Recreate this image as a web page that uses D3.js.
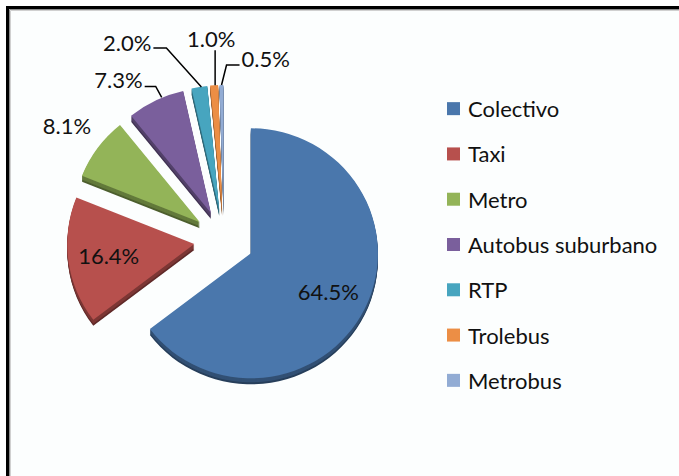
<!DOCTYPE html>
<html>
<head>
<meta charset="utf-8">
<script src="https://cdn.jsdelivr.net/npm/d3@7"></script>
<style>
  body { margin: 0; background: #fff; }
  svg { display: block; }
</style>
</head>
<body>
<script>
// data
var categories = ["Colectivo", "Taxi", "Metro", "Autobus suburbano", "RTP", "Trolebus", "Metrobus"]
var shares = [64.5, 16.4, 8.1, 7.3, 2.0, 1.0, 0.5]
var labels = ["64.5%", "16.4%", "8.1%", "7.3%", "2.0%", "1.0%", "0.5%"]
var colors = ["#4a77ac", "#b7504d", "#93b458", "#7a5f9c", "#47a5bf", "#ec8e45", "#92acd4"]

var width = 679, height = 476
var center = {x: 224, y: 240}
var rx = 127, ry = 125, depth = 6, explode = 30

// label placement (inside = radial factor, outside = leader offsets from arc point)
var labelLayout = [
    {type: "inside", f: 0.68},
    {type: "inside", f: 0.68},
    {type: "radial", f: 1.3},
    {type: "leader", pts: [[6, -3], [0, -14], [-11, -14]], anchor: "end", dx: -2, dy: -7},
    {type: "leader", pts: [[2, 0], [-33, -39], [-46, -39]], anchor: "end", dx: -2, dy: -5},
    {type: "leader", pts: [[1, 0], [1, -35]], anchor: "middle", dx: -4, dy: -12},
    {type: "leader", pts: [[0, 0], [5, -20], [18, -20]], anchor: "start", dx: 2, dy: -7}
]

const svg = d3.select("body").append("svg")
    .attr("width", width)
    .attr("height", height)
    .attr("font-family", "Lato, 'Open Sans', sans-serif")

// chart frame
svg.append("rect").attr("x", 8).attr("y", 8).attr("width", width).attr("height", height)
    .attr("fill", "#fcfefe")
svg.append("path").attr("d", `M7.5,${height} V7.5 H${width}`)
    .attr("fill", "none").attr("stroke", "#000").attr("stroke-width", 3)
svg.append("path").attr("d", `M9.5,${height} V9.5 H${width}`)
    .attr("fill", "none").attr("stroke", "#8a8a8a").attr("stroke-width", 1)
svg.append("path").attr("d", `M10.5,${height} V10.5 H${width}`)
    .attr("fill", "none").attr("stroke", "#d0d0d0").attr("stroke-width", 1)

var pie = d3.pie().sort(null).value(d => d)
var arcs = pie(shares)
var rScale = d3.scaleLinear().domain([0, 1]).range([0, 1])

function apexOf(d) {
    var m = (d.startAngle + d.endAngle) / 2
    return {x: center.x + explode * Math.sin(m), y: center.y - explode * Math.cos(m)}
}
function pt(o, a, r) {
    return [o.x + rx * rScale(r) * Math.sin(a), o.y - ry * rScale(r) * Math.cos(a)]
}
function slicePath(d, dy) {
    var o = apexOf(d)
    o = {x: o.x, y: o.y + dy}
    var p0 = pt(o, d.startAngle, 1), p1 = pt(o, d.endAngle, 1)
    var large = (d.endAngle - d.startAngle) > Math.PI ? 1 : 0
    return `M${o.x},${o.y} L${p0[0]},${p0[1]} A${rx},${ry} 0 ${large} 1 ${p1[0]},${p1[1]} Z`
}

// 3d sides
var sides = svg.append("g")
d3.range(depth, 0, -1).forEach(k => {
    sides.selectAll(null)
        .data(arcs)
        .join("path")
            .attr("d", d => slicePath(d, k))
            .attr("fill", (d, i) => d3.color(colors[i]).darker(k > depth - 2 ? 1.8 : 1.1))
})

// top faces
svg.append("g")
    .selectAll("path")
    .data(arcs)
    .join("path")
        .attr("d", d => slicePath(d, 0))
        .attr("fill", (d, i) => colors[i])

// data labels
var lab = svg.append("g").attr("font-size", 22).attr("fill", "#111")
arcs.forEach((d, i) => {
    var L = labelLayout[i]
    var m = (d.startAngle + d.endAngle) / 2
    var o = apexOf(d)
    if (L.type !== "leader") {
        var p = pt(o, m, L.f)
        lab.append("text").attr("x", p[0]).attr("y", p[1])
            .attr("text-anchor", "middle").attr("dominant-baseline", "central")
            .text(labels[i])
    } else {
        var a = pt(o, m, 1)
        var line = L.pts.map(q => [a[0] + q[0], a[1] + q[1]])
        lab.append("path").attr("d", d3.line()(line))
            .attr("fill", "none").attr("stroke", "#000").attr("stroke-width", 1.5)
        var last = line[line.length - 1]
        lab.append("text").attr("x", last[0] + L.dx).attr("y", last[1] + L.dy)
            .attr("text-anchor", L.anchor).attr("dominant-baseline", "central")
            .text(labels[i])
    }
})

// legend
var yLeg = d3.scaleBand().domain(categories).range([86, 403])
var leg = svg.append("g")
    .selectAll("g")
    .data(categories)
    .join("g")
        .attr("transform", d => `translate(447,${yLeg(d) + yLeg.bandwidth() / 2})`)
leg.append("rect").attr("y", -6.5).attr("width", 13).attr("height", 13)
    .attr("fill", (d, i) => colors[i])
leg.append("text").attr("x", 21).attr("dominant-baseline", "central")
    .attr("font-size", 22).attr("fill", "#111")
    .text(d => d)
</script>
</body>
</html>
